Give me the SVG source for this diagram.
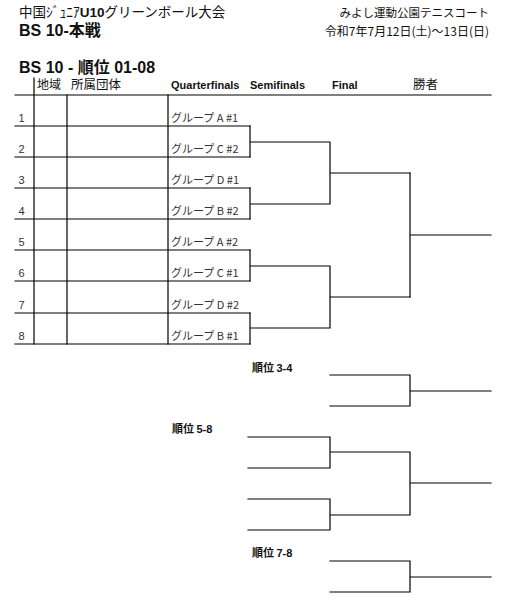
<svg xmlns="http://www.w3.org/2000/svg" width="510" height="611" viewBox="0 0 510 611">
<style>
.ln{stroke:#000;stroke-width:1.2;fill:none;stroke-linecap:square}
.t{font-family:"Liberation Sans","Noto Sans CJK JP",sans-serif;fill:#111}
.cj{font-family:"Noto Sans CJK JP","Liberation Sans",sans-serif;fill:#111}
.b{font-weight:bold}
.num{font-family:"Liberation Sans",sans-serif;font-size:11px;fill:#333}
.grp{font-family:"Noto Sans CJK JP",sans-serif;font-size:11px;fill:#333}
.hd{font-family:"Liberation Sans","Noto Sans CJK JP",sans-serif;font-size:11px;font-weight:bold;fill:#111}
</style>
<rect width="510" height="611" fill="#fff"/>
<g id="title">
<text class="cj" x="19" y="17" font-size="13.5">中国ｼﾞｭﾆｱ<tspan font-weight="bold" font-family="Liberation Sans">U10</tspan>グリーンボール大会</text>
<text class="t b" x="19" y="36" font-size="16">BS 10-本戦</text>
<text class="cj" x="489" y="17" font-size="11.5" text-anchor="end">みよし運動公園テニスコート</text>
<text class="cj" x="489" y="36" font-size="12" text-anchor="end">令和7年7月12日(土)～13日(日)</text>
<text class="t b" x="19" y="72.5" font-size="16">BS 10 - 順位 01-08</text>
</g>
<g id="header">
<text class="t" x="37" y="89" font-size="12">地域</text>
<text class="t" x="71" y="89" font-size="12.5">所属団体</text>
<text class="hd" x="171" y="89">Quarterfinals</text>
<text class="hd" x="250" y="89">Semifinals</text>
<text class="hd" x="332" y="89">Final</text>
<text class="t" x="413" y="89" font-size="12.5">勝者</text>
</g>
<g id="table">
<line class="ln" x1="15" y1="95" x2="491" y2="95"/>
<line class="ln" x1="34" y1="78" x2="34" y2="344"/>
<line class="ln" x1="67" y1="95" x2="67" y2="344"/>
<line class="ln" x1="168" y1="95" x2="168" y2="344"/>
</g>
<g id="row1"><text class="num" x="18.5" y="122">1</text><text class="grp" x="171" y="122">グループ A #1</text><line class="ln" x1="15" y1="126" x2="250" y2="126"/></g>
<g id="row2"><text class="num" x="18.5" y="153">2</text><text class="grp" x="171" y="153">グループ C #2</text><line class="ln" x1="15" y1="157" x2="250" y2="157"/></g>
<g id="row3"><text class="num" x="18.5" y="184">3</text><text class="grp" x="171" y="184">グループ D #1</text><line class="ln" x1="15" y1="188" x2="250" y2="188"/></g>
<g id="row4"><text class="num" x="18.5" y="215">4</text><text class="grp" x="171" y="215">グループ B #2</text><line class="ln" x1="15" y1="219" x2="250" y2="219"/></g>
<g id="row5"><text class="num" x="18.5" y="246">5</text><text class="grp" x="171" y="246">グループ A #2</text><line class="ln" x1="15" y1="250" x2="250" y2="250"/></g>
<g id="row6"><text class="num" x="18.5" y="277">6</text><text class="grp" x="171" y="277">グループ C #1</text><line class="ln" x1="15" y1="281" x2="250" y2="281"/></g>
<g id="row7"><text class="num" x="18.5" y="309">7</text><text class="grp" x="171" y="309">グループ D #2</text><line class="ln" x1="15" y1="313" x2="250" y2="313"/></g>
<g id="row8"><text class="num" x="18.5" y="340">8</text><text class="grp" x="171" y="340">グループ B #1</text><line class="ln" x1="15" y1="344" x2="250" y2="344"/></g>
<g id="labels">
<text class="cj b" x="252" y="372" font-size="11">順位 <tspan font-family="Liberation Sans">3-4</tspan></text>
<text class="cj b" x="172" y="433" font-size="11">順位 <tspan font-family="Liberation Sans">5-8</tspan></text>
<text class="cj b" x="252" y="557" font-size="11">順位 <tspan font-family="Liberation Sans">7-8</tspan></text>
</g>
<g id="connectors">
<path class="ln" d="M250 126V157M250 142H330M250 188V219M250 204H330M330 142V204M330 173H410"/>
<path class="ln" d="M250 250V281M250 266H330M250 313V344M250 328H330M330 266V328M330 297H410"/>
<path class="ln" d="M410 173V297M410 235H491"/>
<path class="ln" d="M330 375H410M330 406H410M410 375V406M410 391H491"/>
<path class="ln" d="M248 437H330M248 468H330M330 437V468M248 499H330M248 530H330M330 499V530M330 452H410M330 515H410M410 452V515M410 483H491"/>
<path class="ln" d="M330 561H410M330 592H410M410 561V592M410 577H491"/>
</g>
</svg>
